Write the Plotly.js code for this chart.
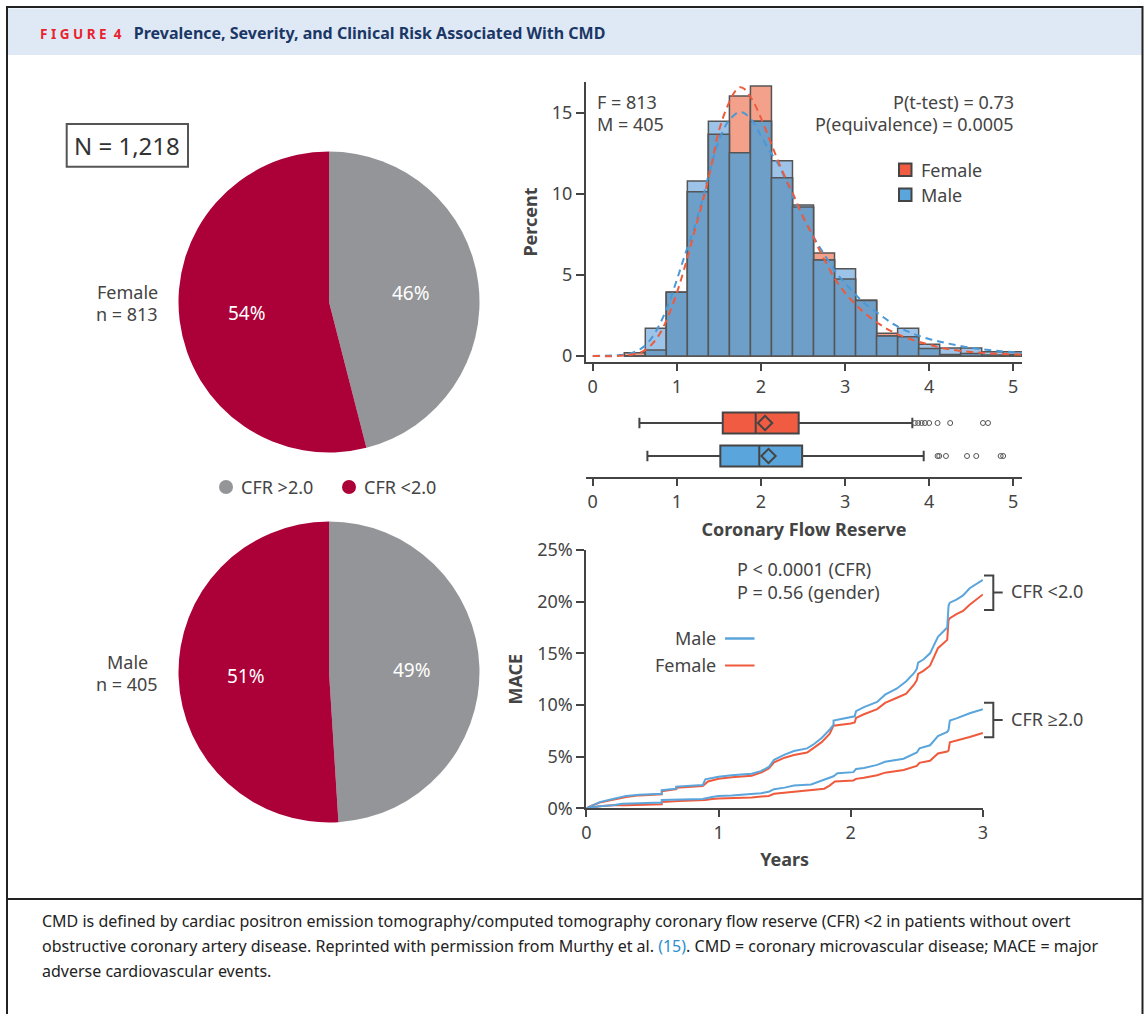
<!DOCTYPE html>
<html>
<head>
<meta charset="utf-8">
<script src="https://cdn.plot.ly/plotly-3.0.1.min.js"></script>
<style>
html,body{margin:0;padding:0;background:#fff;}
#chart{width:1147px;height:1014px;}
</style>
</head>
<body>
<div id="chart"></div>
<script>
// ---------------- DATA ----------------
const pieLabels = ['CFR >2.0', 'CFR <2.0'];
const femalePie = [46, 54];
const malePie = [49, 51];

const binCenters = [0.5,0.75,1.0,1.25,1.5,1.75,2.0,2.25,2.5,2.75,3.0,3.25,3.5,3.75,4.0,4.25,4.5,4.75,5.0];
const femalePct = [0.2,0.37,3.93,10.15,13.7,16.05,16.67,11.0,9.2,6.36,4.75,3.42,1.40,1.19,0.47,0.1,0.15,0.06,0.1];
const malePct   = [0.0,1.71,3.93,10.8,14.5,12.55,14.5,12.06,9.32,5.93,5.39,3.44,1.23,1.71,0.72,0.5,0.5,0.27,0.27];

const densX = [0,0.3,0.4,0.5,0.6,0.7,0.8,0.9,1.0,1.1,1.2,1.3,1.4,1.5,1.6,1.7,1.75,1.8,1.9,2.0,2.1,2.2,2.3,2.4,2.5,2.6,2.7,2.8,2.9,3.0,3.2,3.4,3.6,3.8,4.0,4.2,4.5,4.8,5.1];
const femaleDens = [0,0,0.05,0.12,0.3,0.7,1.4,2.5,3.9,5.6,7.5,9.4,11.5,13.9,15.4,16.4,16.6,16.5,15.8,14.7,13.4,12.1,10.9,9.8,8.6,7.6,6.5,5.5,4.6,3.9,2.8,2.0,1.4,1.0,0.7,0.45,0.25,0.14,0.08];
const maleDens   = [0,0.05,0.1,0.25,0.55,1.1,2.0,3.2,4.7,6.3,7.8,9.6,11.6,13.3,14.4,14.95,15.05,15.0,14.5,13.6,12.7,11.9,10.8,9.6,8.6,7.6,6.7,5.9,5.1,4.5,3.4,2.6,1.9,1.4,1.05,0.8,0.5,0.32,0.2];

// box plot statistics
const femaleBox = {lo:0.555, q1:1.546, med:1.938, q3:2.449, hi:3.80, mean:2.049};
const maleBox   = {lo:0.65,  q1:1.517, med:1.98,  q3:2.49,  hi:3.935, mean:2.09};
const femaleOutliers = [3.83,3.87,3.91,3.95,4.00,4.10,4.25,4.64,4.70];
const maleOutliers   = [4.10,4.12,4.20,4.45,4.56,4.85,4.88];

// Kaplan-Meier cumulative MACE (%)
const kmMaleLowX = [0,0.03,0.1,0.2,0.3,0.4,0.57,0.57,0.68,0.68,0.88,0.9,1.0,1.1,1.25,1.32,1.38,1.42,1.5,1.57,1.67,1.72,1.78,1.84,1.87,1.87,2.0,2.03,2.04,2.1,2.2,2.26,2.35,2.42,2.48,2.5,2.51,2.55,2.6,2.66,2.73,2.74,2.75,2.8,2.85,2.9,3.0];
const kmMaleLowY = [0,0.2,0.6,0.9,1.2,1.3,1.4,1.75,1.9,2.1,2.25,2.8,3.05,3.2,3.35,3.6,4.0,4.7,5.2,5.55,5.8,6.2,6.8,7.6,8.1,8.5,8.8,8.9,9.4,9.8,10.3,11.0,11.6,12.3,13.1,13.5,14.1,14.4,15.0,16.6,17.5,19.6,19.9,20.2,20.6,21.3,22.1];
const kmFemaleLowX = [0,0.03,0.1,0.2,0.3,0.4,0.57,0.57,0.68,0.68,0.88,0.92,1.0,1.1,1.25,1.32,1.38,1.42,1.5,1.57,1.67,1.72,1.78,1.84,1.87,1.87,2.0,2.03,2.04,2.1,2.2,2.26,2.35,2.42,2.48,2.5,2.51,2.55,2.6,2.66,2.73,2.74,2.75,2.8,2.85,2.9,3.0];
const kmFemaleLowY = [0,0.2,0.55,0.85,1.1,1.25,1.35,1.65,1.85,2.0,2.15,2.6,2.85,3.0,3.15,3.45,3.85,4.45,4.9,5.15,5.4,5.85,6.4,7.2,7.9,8.0,8.2,8.3,8.75,9.1,9.6,10.2,10.7,11.1,12.0,12.4,13.0,13.3,13.8,15.5,16.3,18.2,18.4,18.8,19.1,19.7,20.7];
const kmMaleHighX = [0,0.05,0.1,0.2,0.27,0.4,0.57,0.57,0.7,0.88,0.95,1.0,1.1,1.25,1.32,1.38,1.42,1.5,1.57,1.7,1.8,1.84,1.87,1.9,2.02,2.04,2.1,2.2,2.26,2.4,2.5,2.51,2.52,2.6,2.66,2.73,2.74,2.75,2.8,2.9,3.0];
const kmMaleHighY = [0,0.1,0.2,0.3,0.45,0.5,0.55,0.8,0.85,0.9,1.1,1.2,1.25,1.35,1.45,1.6,1.85,2.0,2.2,2.3,2.8,3.0,3.1,3.4,3.5,3.8,3.9,4.2,4.5,4.8,5.4,5.6,5.8,6.1,7.0,7.4,7.6,8.5,8.7,9.2,9.6];
const kmFemaleHighX = [0,0.05,0.1,0.2,0.3,0.57,0.57,0.7,0.9,0.95,1.0,1.25,1.32,1.38,1.42,1.5,1.57,1.7,1.8,1.84,1.88,2.02,2.04,2.1,2.2,2.26,2.4,2.5,2.51,2.52,2.6,2.66,2.73,2.74,2.75,2.8,2.9,3.0];
const kmFemaleHighY = [0,0.1,0.2,0.3,0.3,0.4,0.6,0.7,0.8,0.9,0.95,1.05,1.15,1.2,1.4,1.5,1.6,1.8,1.9,2.2,2.6,2.7,2.85,2.95,3.2,3.45,3.7,4.1,4.3,4.4,4.6,5.3,5.5,5.6,6.4,6.55,6.9,7.3];

const histTicks = [0,1,2,3,4,5];
const kmXTicks = [0,1,2,3];
const kmYTicks = [0,5,10,15,20,25];

// ---------------- LAYOUT HELPERS ----------------
const W = 1147, H = 1014;
const px = x => x / W;
const py = y => 1 - y / H;
const FONT = 'Noto Sans, Open Sans, sans-serif';
const TXT = '#444';
const RED = '#f05b42', BLUE = '#5aa5dc';
const PIE_RED = '#ac0039', PIE_GRAY = '#939598';

const overlap = femalePct.map((v, i) => Math.min(v, malePct[i]));

const traces = [];
const femaleDomain = {x:[px(178.5), px(479.5)], y:[py(452.5), py(151.5)]};
const maleDomain = {x:[px(178.5), px(479.5)], y:[py(822.5), py(521.5)]};
function pie(values, domain) {
  return {type:'pie', values: values, labels: pieLabels, sort:false, direction:'clockwise', rotation:0,
    marker:{colors:[PIE_GRAY, PIE_RED], line:{width:0}}, textinfo:'none',
    domain: domain, hoverinfo:'none', showlegend:false};
}
traces.push(pie(femalePie, femaleDomain));
traces.push(pie(malePie, maleDomain));

// Histogram bars
const barLine = {color:'#555', width:1.5};
traces.push({type:'bar', x: binCenters, y: femalePct, width:0.25, marker:{color:'#f4a18b', line:barLine}, xaxis:'x', yaxis:'y', hoverinfo:'none'});
traces.push({type:'bar', x: binCenters, y: malePct, width:0.25, marker:{color:'#9dc4e8', line:barLine}, xaxis:'x', yaxis:'y', hoverinfo:'none'});
traces.push({type:'bar', x: binCenters, y: overlap, width:0.25, marker:{color:'#6e9fc9', line:barLine}, xaxis:'x', yaxis:'y', hoverinfo:'none'});
traces.push({type:'scatter', mode:'lines', x: densX, y: maleDens, line:{color:'#4a98d6', width:2, dash:'7px,5px', shape:'spline'}, xaxis:'x', yaxis:'y', hoverinfo:'none'});
traces.push({type:'scatter', mode:'lines', x: densX, y: femaleDens, line:{color:'#ee5a3c', width:2, dash:'7px,5px', shape:'spline'}, xaxis:'x', yaxis:'y', hoverinfo:'none'});

// Box plots
function boxTrace(b, pos, color) {
  return {type:'box', orientation:'h', y:[pos], q1:[b.q1], median:[b.med], q3:[b.q3], lowerfence:[b.lo], upperfence:[b.hi],
    fillcolor: color, line:{color:'#444', width:2}, width:0.64, whiskerwidth:0.5, boxpoints:false,
    xaxis:'x2', yaxis:'y2', hoverinfo:'none'};
}
traces.push(boxTrace(femaleBox, 2, RED));
traces.push(boxTrace(maleBox, 1, BLUE));
traces.push({type:'scatter', mode:'markers', x:[femaleBox.mean, maleBox.mean], y:[2,1],
  marker:{symbol:'diamond-open', size:11, color:'#444', line:{width:2, color:'#444'}}, xaxis:'x2', yaxis:'y2', hoverinfo:'none'});
traces.push({type:'scatter', mode:'markers', x: femaleOutliers, y: femaleOutliers.map(() => 2),
  marker:{symbol:'circle-open', size:5, color:'#555', line:{width:1, color:'#555'}}, xaxis:'x2', yaxis:'y2', hoverinfo:'none'});
traces.push({type:'scatter', mode:'markers', x: maleOutliers, y: maleOutliers.map(() => 1),
  marker:{symbol:'circle-open', size:5, color:'#555', line:{width:1, color:'#555'}}, xaxis:'x2', yaxis:'y2', hoverinfo:'none'});

// KM curves
function km(x, y, color) {
  return {type:'scatter', mode:'lines', x:x, y:y, line:{color:color, width:2}, xaxis:'x3', yaxis:'y3', hoverinfo:'none'};
}
traces.push(km(kmFemaleHighX, kmFemaleHighY, '#ef5a3c'));
traces.push(km(kmMaleHighX, kmMaleHighY, '#5aa5dc'));
traces.push(km(kmFemaleLowX, kmFemaleLowY, '#ef5a3c'));
traces.push(km(kmMaleLowX, kmMaleLowY, '#5aa5dc'));

// ---------------- AXES ----------------
const axBase = {showline:true, linecolor:'#444', linewidth:2, ticks:'outside', ticklen:8, tickwidth:2, tickcolor:'#444',
  showgrid:false, zeroline:false, tickfont:{size:18, color:TXT, family:FONT}, fixedrange:true};
const titleFont = {size:18, color:TXT, family:FONT};

const layout = {
  width: W, height: H, margin:{l:0, r:0, t:0, b:0}, paper_bgcolor:'#fff', plot_bgcolor:'rgba(0,0,0,0)',
  showlegend:false, barmode:'overlay', font:{family:FONT, color:TXT},
  xaxis: Object.assign({}, axBase, {domain:[px(586), px(1022)], anchor:'y', range:[-0.08, 5.104], tickvals:histTicks, ticklen:7}),
  yaxis: Object.assign({}, axBase, {domain:[py(362), py(82)], anchor:'x', range:[-0.37, 16.92], tickvals:[0,5,10,15],
    title:{text:'<b>Percent</b>', font:titleFont, standoff:10}}),
  xaxis2: Object.assign({}, axBase, {domain:[px(586), px(1022)], anchor:'y2', range:[-0.08, 5.104], tickvals:histTicks, ticklen:7,
    title:{text:'<b>Coronary Flow Reserve</b>', font:titleFont, standoff:12}}),
  yaxis2: {domain:[py(477), py(400)], anchor:'x2', range:[0.364, 2.697], visible:false, fixedrange:true},
  xaxis3: Object.assign({}, axBase, {domain:[px(586.4), px(982.9)], anchor:'y3', range:[0, 3], tickvals:kmXTicks, ticklen:7,
    title:{text:'<b>Years</b>', font:titleFont, standoff:10}}),
  yaxis3: Object.assign({}, axBase, {domain:[py(808.3), py(550)], anchor:'x3', range:[0, 25], tickmode:'array', tickvals:kmYTicks,
    ticktext: kmYTicks.map(v => v + '%'),
    title:{text:'<b>MACE</b>', font:titleFont, standoff:10}}),
  shapes: [], annotations: []
};

const S = layout.shapes, A = layout.annotations;
function rectPx(x0, y0, x1, y1, opts) {
  S.push(Object.assign({type:'rect', xref:'paper', yref:'paper', x0:px(x0), x1:px(x1), y0:py(y1), y1:py(y0)}, opts));
}
function linePx(x0, y0, x1, y1, color, width) {
  S.push({type:'line', xref:'paper', yref:'paper', x0:px(x0), x1:px(x1), y0:py(y0), y1:py(y1), line:{color:color, width:width}});
}
function pathPx(pts, color, width) {
  const d = pts.map((p, i) => (i ? 'L' : 'M') + px(p[0]) + ',' + py(p[1])).join(' ');
  S.push({type:'path', xref:'paper', yref:'paper', path:d, line:{color:color, width:width}});
}
function text(t, x, y, opts) {
  A.push(Object.assign({text:t, xref:'paper', yref:'paper', x:px(x), y:py(y), xanchor:'left', yanchor:'middle', showarrow:false,
    font:{size:18, color:TXT, family:FONT}}, opts));
}

// pie percentage labels, placed on each slice bisector
function pieLabelsFor(values, domain) {
  const cx = (domain.x[0] + domain.x[1]) / 2 * W;
  const cy = (1 - (domain.y[0] + domain.y[1]) / 2) * H;
  const R = (domain.x[1] - domain.x[0]) * W / 2;
  const total = values.reduce((a, b) => a + b, 0);
  let cum = 0;
  values.forEach(v => {
    const mid = (cum + v / 2) / total * 2 * Math.PI;
    cum += v;
    const r = 0.55 * R;
    text(v + '%', cx + r * Math.sin(mid), cy - r * Math.cos(mid) + 1, {xanchor:'center', font:{size:19, color:'#fff', family:FONT}});
  });
}
pieLabelsFor(femalePie, femaleDomain);
pieLabelsFor(malePie, maleDomain);

// frame and header
rectPx(7, 8.5, 1142, 55, {fillcolor:'#dfe9f5', line:{width:0}, layer:'below'});
rectPx(7, 7, 1142.5, 1030, {line:{color:'#222', width:2}});
linePx(7, 899, 1142.5, 899, '#222', 2);
text('<b><span style="color:#e8232e;font-size:13.5px">F I G U R E&nbsp;&nbsp;4</span>&nbsp;&nbsp;&nbsp;Prevalence, Severity, and Clinical Risk Associated With CMD</b>',
  38, 33, {font:{size:16, color:'#1b3766', family:FONT}});

// caption
const capFont = {size:16, color:'#222', family:FONT};
text('CMD is defined by cardiac positron emission tomography/computed tomography coronary flow reserve (CFR) &lt;2 in patients without overt', 40, 921, {font:capFont});
text('obstructive coronary artery disease. Reprinted with permission from Murthy et al. <span style="color:#2a8ed0">(15)</span>. CMD = coronary microvascular disease; MACE = major', 40, 946, {font:capFont});
text('adverse cardiovascular events.', 40, 971, {font:capFont});

// pie area texts
rectPx(66.7, 124, 188, 166.7, {line:{color:'#555', width:2}});
text('N = 1,218', 127.3, 145.5, {xanchor:'center', font:{size:24, color:'#333', family:FONT}});
text('Female', 127.3, 291.7, {xanchor:'center'});
text('n = 813', 127.3, 314.3, {xanchor:'center'});
text('Male', 127.3, 661.7, {xanchor:'center'});
text('n = 405', 127.3, 683.5, {xanchor:'center'});
S.push({type:'circle', xref:'paper', yref:'paper', x0:px(219), x1:px(233), y0:py(494), y1:py(480), fillcolor:PIE_GRAY, line:{width:0}});
S.push({type:'circle', xref:'paper', yref:'paper', x0:px(342), x1:px(356), y0:py(494), y1:py(480), fillcolor:PIE_RED, line:{width:0}});
text('CFR &gt;2.0', 239, 487);
text('CFR &lt;2.0', 362, 487);

// histogram annotations
text('F = 813', 595, 101.5);
text('M = 405', 595, 124);
text('P(t-test) = 0.73', 1016, 101.5, {xanchor:'right'});
text('P(equivalence) = 0.0005', 1016, 124, {xanchor:'right'});
rectPx(899, 163.5, 911.5, 176, {fillcolor:RED, line:{color:'#444', width:2}});
rectPx(899, 188.5, 911.5, 201, {fillcolor:BLUE, line:{color:'#444', width:2}});
text('Female', 919, 170);
text('Male', 919, 194.5);

// KM annotations
text('P &lt; 0.0001 (CFR)', 734.5, 569);
text('P = 0.56 (gender)', 734.5, 591.7);
text('Male', 717.5, 638, {xanchor:'right'});
text('Female', 717.5, 665, {xanchor:'right'});
linePx(725, 638.5, 754.5, 638.5, '#5aa5dc', 2.5);
linePx(725, 665.5, 754.5, 665.5, '#ef5a3c', 2);
pathPx([[984, 575.5], [993.3, 575.5], [993.3, 610], [984, 610]], '#444', 2);
linePx(993.3, 592.5, 1002.7, 592.5, '#444', 2);
pathPx([[984, 702.7], [993.3, 702.7], [993.3, 737.3], [984, 737.3]], '#444', 2);
linePx(993.3, 720, 1002.7, 720, '#444', 2);
text('CFR &lt;2.0', 1008.5, 590.7);
text('CFR ≥2.0', 1008.5, 719);

Plotly.newPlot('chart', traces, layout, {displayModeBar:false, staticPlot:true});
</script>
</body>
</html>
